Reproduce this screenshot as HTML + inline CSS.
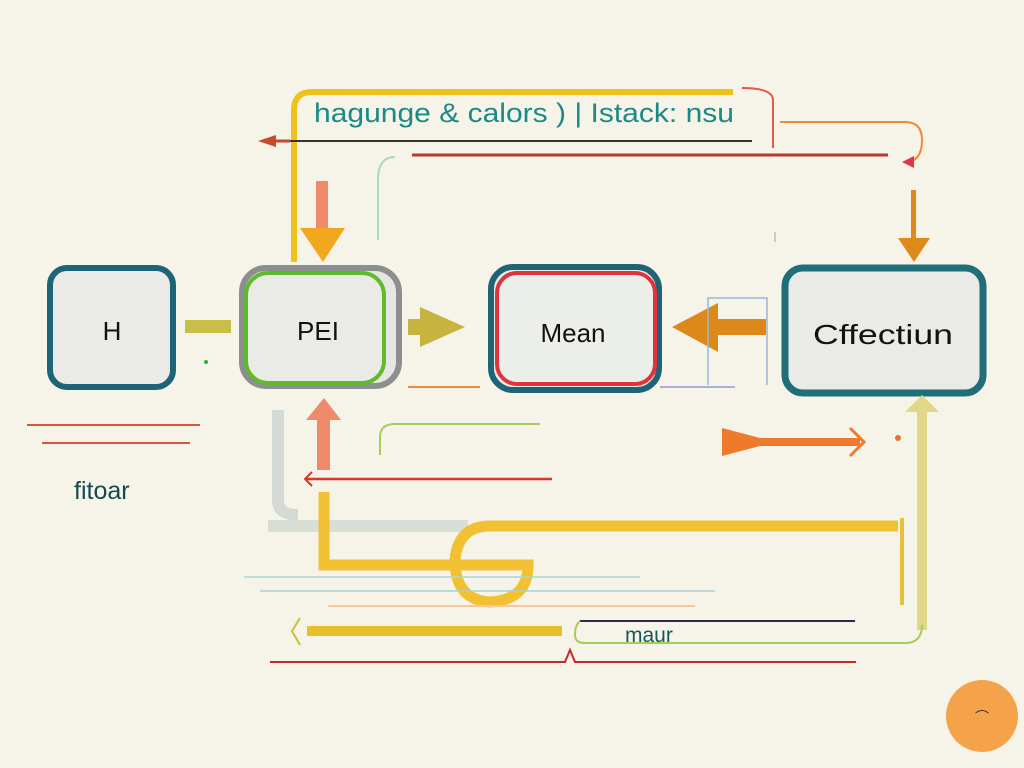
<!DOCTYPE html>
<html><head><meta charset="utf-8"><style>
html,body{margin:0;padding:0;background:#f6f3e8;}
svg{display:block}
text{font-family:"Liberation Sans","DejaVu Sans",sans-serif;}
</style></head><body>
<svg width="1024" height="768" viewBox="0 0 1024 768" xmlns="http://www.w3.org/2000/svg">
<rect width="1024" height="768" fill="#f6f3e8"/>
<path d="M294,262 L294,110 Q294,92 312,92 L733,92" fill="none" stroke="#eec21a" stroke-width="6"/>
<path d="M742,88 Q773,88 773,100 L773,148" fill="none" stroke="#e45a4a" stroke-width="2"/>
<text x="314" y="122" font-size="27" fill="#1a8a86" textLength="420" lengthAdjust="spacingAndGlyphs">hagunge &amp; calors ) | Istack: nsu</text>
<path d="M270,141 L752,141" stroke="#333" stroke-width="2"/>
<path d="M270,141 L290,141" stroke="#c94a2a" stroke-width="3"/>
<path d="M258,141 L276,135 L276,147 Z" fill="#c94a2a"/>
<path d="M412,155 L888,155" stroke="#b8382a" stroke-width="3"/>
<path d="M780,122 L905,122 Q922,122 922,140 Q922,162 905,162" fill="none" stroke="#ef8a3a" stroke-width="2"/>
<path d="M902,162 L914,156 L914,168 Z" fill="#e4344a"/>
<path d="M378,240 L378,180 Q378,157 395,157" fill="none" stroke="#a8dcc0" stroke-width="2"/>
<rect x="316" y="181" width="12" height="55" fill="#ef8a6a"/>
<path d="M300,228 L345,228 L323,262 Z" fill="#f1a81c"/>
<rect x="911" y="190" width="5" height="50" fill="#de8a1a"/>
<path d="M898,238 L930,238 L914,262 Z" fill="#de8a1a"/>
<line x1="775" y1="232" x2="775" y2="242" stroke="#ccc" stroke-width="2"/>
<rect x="50" y="268" width="123" height="119" rx="17" fill="#eaebe6" stroke="#1f6476" stroke-width="6"/>
<text x="112" y="340" font-size="26" text-anchor="middle" fill="#111">H</text>
<rect x="242" y="268" width="157" height="118" rx="24" fill="#e6e7e3" stroke="#8c8e90" stroke-width="6"/>
<rect x="246" y="273" width="138" height="110" rx="22" fill="#eaebe6" stroke="#5dbb2c" stroke-width="4"/>
<text x="318" y="340" font-size="26" text-anchor="middle" fill="#111">PEI</text>
<rect x="491" y="267" width="168" height="123" rx="22" fill="#eaebe6" stroke="#1f6476" stroke-width="6"/>
<rect x="497" y="273" width="158" height="111" rx="20" fill="#eceee9" stroke="#e0343a" stroke-width="4"/>
<text x="573" y="342" font-size="26" text-anchor="middle" fill="#111">Mean</text>
<rect x="785" y="268" width="198" height="125" rx="18" fill="#eaebe6" stroke="#1f6e7a" stroke-width="7"/>
<text x="883" y="344" font-size="28" text-anchor="middle" fill="#111" textLength="140" lengthAdjust="spacingAndGlyphs">Cffectiun</text>
<rect x="185" y="320" width="46" height="13" fill="#c9bf46"/>
<circle cx="206" cy="362" r="2" fill="#3a3"/>
<rect x="408" y="319" width="28" height="16" fill="#c7b440"/>
<path d="M420,307 L465,327 L420,347 Z" fill="#c7b440"/>
<rect x="706" y="319" width="60" height="16" fill="#db8a1a"/>
<path d="M718,303 L672,327 L718,352 Z" fill="#db8a1a"/>
<path d="M708,385 L708,298 L767,298 L767,385" fill="none" stroke="#9ab8d8" stroke-width="1.5"/>
<path d="M408,387 L480,387" stroke="#ef8a3a" stroke-width="2"/>
<path d="M660,387 L735,387" stroke="#aab0d8" stroke-width="2"/>
<path d="M27,425 L200,425" stroke="#d9543a" stroke-width="2"/>
<path d="M42,443 L190,443" stroke="#d9543a" stroke-width="2"/>
<text x="74" y="499" font-size="25" fill="#124a50">fitoar</text>
<path d="M278,410 L278,500 Q278,515 298,515" fill="none" stroke="#d4dbd6" stroke-width="12"/>
<rect x="317" y="418" width="13" height="52" fill="#ef8a6a"/>
<path d="M306,420 L341,420 L324,398 Z" fill="#ef8a6a"/>
<path d="M306,479 L552,479" stroke="#d8382a" stroke-width="2.5"/>
<path d="M312,472 L305,479 L312,486" fill="none" stroke="#d8382a" stroke-width="2"/>
<path d="M380,455 L380,437 Q380,424 395,424 L540,424" fill="none" stroke="#a8cc5a" stroke-width="2"/>
<path d="M722,428 L760,438 L860,438 L860,446 L760,446 L722,456 Z" fill="#ef7a2c"/>
<path d="M850,428 L864,442 L850,456" fill="none" stroke="#ef7a2c" stroke-width="3"/>
<circle cx="898" cy="438" r="3" fill="#e0743a"/>
<rect x="268" y="520" width="200" height="12" fill="#d8ddd6"/>
<path d="M324,492 L324,565 L440,565" fill="none" stroke="#f1c133" stroke-width="11"/>
<path d="M440,565 L528,565 Q528,600 490,602 Q455,600 455,560 Q458,526 490,526 L898,526" fill="none" stroke="#f1c133" stroke-width="11"/>
<path d="M902,518 L902,605" stroke="#e8bf38" stroke-width="4"/>
<path d="M244,577 L640,577" stroke="#aad8d0" stroke-width="1.5"/>
<path d="M260,591 L715,591" stroke="#aad0d0" stroke-width="1.5"/>
<path d="M922,410 L922,630" stroke="#e0d888" stroke-width="10"/>
<path d="M905,412 L922,395 L939,412 Z" fill="#e0d888"/>
<path d="M328,606 L695,606" stroke="#f5c89a" stroke-width="2"/>
<path d="M307,631 L562,631" stroke="#e6bf2a" stroke-width="10"/>
<path d="M300,618 L292,631 L300,645" fill="none" stroke="#c8c040" stroke-width="2"/>
<path d="M580,621 L855,621" stroke="#2a2a4a" stroke-width="2"/>
<path d="M580,621 Q575,625 575,635 Q575,643 585,643 L905,643 Q922,643 922,625" fill="none" stroke="#a8cc5a" stroke-width="2"/>
<text x="625" y="642" font-size="21" fill="#125a5a">maur</text>
<path d="M270,662 L565,662 L570,650 L575,662 L856,662" fill="none" stroke="#c8282a" stroke-width="2"/>
<circle cx="982" cy="716" r="36" fill="#f4a34a"/>
<text x="982" y="722" font-size="14" text-anchor="middle" fill="#333">⌒</text>
</svg>
</body></html>
